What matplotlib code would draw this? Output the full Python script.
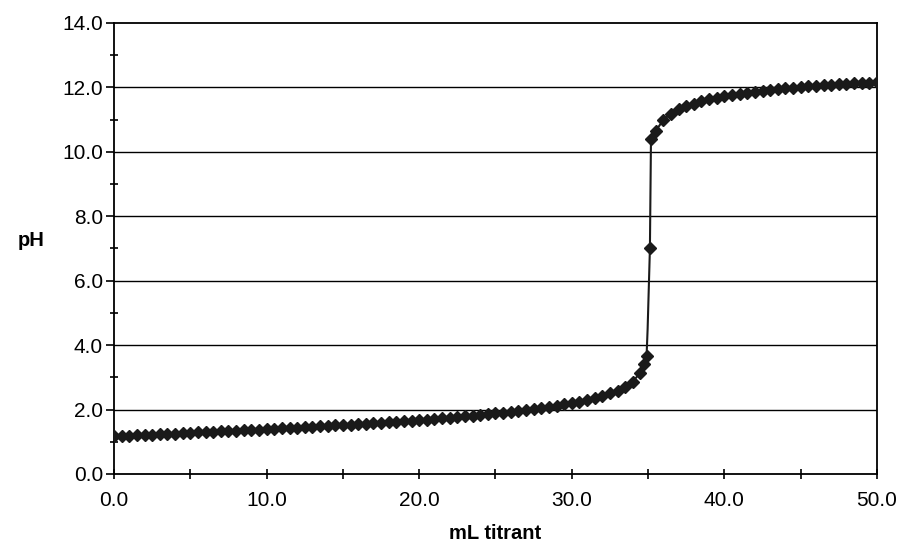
import matplotlib.pyplot as plt
from matplotlib.ticker import MultipleLocator, FormatStrFormatter

plt.rcParams['font.family'] = ['Liberation Sans', 'DejaVu Sans']

volume = [0.0, 0.5, 1.0, 1.5, 2.0, 2.5, 3.0, 3.5, 4.0, 4.5,
          5.0, 5.5, 6.0, 6.5, 7.0, 7.5, 8.0, 8.5, 9.0, 9.5,
          10.0, 10.5, 11.0, 11.5, 12.0, 12.5, 13.0, 13.5, 14.0, 14.5,
          15.0, 15.5, 16.0, 16.5, 17.0, 17.5, 18.0, 18.5, 19.0, 19.5,
          20.0, 20.5, 21.0, 21.5, 22.0, 22.5, 23.0, 23.5, 24.0, 24.5,
          25.0, 25.5, 26.0, 26.5, 27.0, 27.5, 28.0, 28.5, 29.0, 29.5,
          30.0, 30.5, 31.0, 31.5, 32.0, 32.5, 33.0, 33.5, 34.0, 34.5,
          34.75, 34.9, 34.97, 35.12, 35.19, 35.5,
          36.0, 36.5, 37.0, 37.5, 38.0, 38.5, 39.0, 39.5,
          40.0, 40.5, 41.0, 41.5, 42.0, 42.5, 43.0, 43.5, 44.0, 44.5,
          45.0, 45.5, 46.0, 46.5, 47.0, 47.5, 48.0, 48.5, 49.0, 49.5, 50.0]
ph = [1.17, 1.18, 1.19, 1.20, 1.21, 1.22, 1.23, 1.24, 1.25, 1.27,
      1.28, 1.29, 1.30, 1.31, 1.32, 1.33, 1.34, 1.36, 1.37, 1.38,
      1.39, 1.40, 1.42, 1.43, 1.44, 1.45, 1.47, 1.48, 1.49, 1.51,
      1.52, 1.53, 1.55, 1.56, 1.58, 1.59, 1.61, 1.62, 1.64, 1.66,
      1.68, 1.69, 1.71, 1.73, 1.75, 1.77, 1.79, 1.81, 1.83, 1.85,
      1.88, 1.90, 1.93, 1.96, 1.98, 2.01, 2.05, 2.08, 2.12, 2.16,
      2.20, 2.25, 2.30, 2.36, 2.42, 2.50, 2.59, 2.71, 2.87, 3.15,
      3.40, 3.65, 4.50, 7.00, 10.40, 10.65,
      10.99, 11.19, 11.32, 11.42, 11.50, 11.57, 11.63, 11.68,
      11.73, 11.77, 11.80, 11.84, 11.87, 11.89, 11.92, 11.95, 11.97, 11.99,
      12.01, 12.03, 12.05, 12.06, 12.08, 12.10, 12.11, 12.13, 12.14, 12.15, 12.17]

fig = plt.figure(figsize=(9, 5.46), dpi=100)
ax = fig.add_axes([0.1267, 0.1319, 0.8477, 0.826])

# horizontal gridlines only
for y in [2, 4, 6, 8, 10, 12]:
    ax.axhline(y, color='black', linewidth=1.0, zorder=1)

# the reading at 4.5 shows as a bend in the line only, no marker
shown = [i for i, v in enumerate(ph) if v != 4.50]
ax.plot(volume, ph, color='#1a1a1a', linewidth=1.5, marker='D',
        markersize=6.5, markevery=shown, zorder=3)

ax.set_xlim(0, 50)
ax.set_ylim(0, 14)

ax.xaxis.set_major_locator(MultipleLocator(10))
ax.xaxis.set_minor_locator(MultipleLocator(5))
ax.yaxis.set_major_locator(MultipleLocator(2))
ax.yaxis.set_minor_locator(MultipleLocator(1))
ax.xaxis.set_major_formatter(FormatStrFormatter('%.1f'))
ax.yaxis.set_major_formatter(FormatStrFormatter('%.1f'))

ax.tick_params(axis='x', which='both', direction='inout', length=7,
               width=1.2, labelsize=15, pad=9)
ax.tick_params(axis='y', which='major', direction='out', length=6,
               width=1.2, labelsize=15, pad=2)
ax.tick_params(axis='y', which='minor', direction='inout', length=6,
               width=1.2)

for side in ['left', 'right', 'top', 'bottom']:
    ax.spines[side].set_linewidth(1.3)
    ax.spines[side].set_color('black')

ax.set_xlabel('mL titrant', fontsize=14.5, fontweight='bold', labelpad=10)
ax.set_ylabel('pH', fontsize=14.5, fontweight='bold', rotation=0,
              labelpad=0)
ax.yaxis.set_label_coords(-0.108, 0.497)

plt.savefig('out.png', dpi=100)
plt.close()
